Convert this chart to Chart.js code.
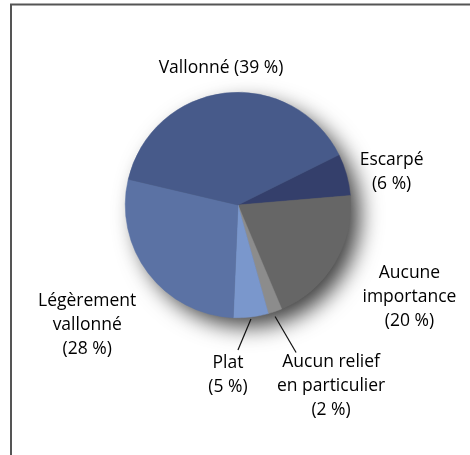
<!DOCTYPE html>
<html>
<head>
<meta charset="utf-8">
<script src="https://cdn.jsdelivr.net/npm/chart.js@4.4.0/dist/chart.umd.min.js"></script>
<style>
  html, body { margin: 0; padding: 0; background: #fff; }
  #wrap { width: 470px; height: 455px; position: relative; }
</style>
</head>
<body>
<div id="wrap"><canvas id="myChart" width="470" height="455"></canvas></div>
<script>
// data, clockwise from the top-right slice
const categories = ["Escarpé", "Aucune importance", "Aucun relief en particulier", "Plat", "Légèrement vallonné", "Vallonné"];
const shares = [6, 20, 2, 5, 28, 39];
const labelLines = [
  ["Escarpé", "(6 %)"],
  ["Aucune", "importance", "(20 %)"],
  ["Aucun relief", "en particulier", "(2 %)"],
  ["Plat", "(5 %)"],
  ["Légèrement", "vallonné", "(28 %)"],
  ["Vallonné (39 %)"],
];

const colors = ["#343f6b", "#666666", "#8c8c8c", "#7a97cc", "#5b72a4", "#475a8a"];

// label offsets from the slice's outer edge at its mid angle
const labelOffset = [[45, -3], [75, 34], [56, 75], [-23, 58], [-61, 52], [-4, -25]];
// leader lines (start / end offsets from the same edge point)
const leaders = [null, null, [0, 5, 21, 41], [0, 2, -13, 33], null, null];

const FONT = '17.5px "Open Sans", sans-serif';
const LINE_H = 24;

const framePlugin = {
  id: "frame",
  beforeDraw(chart) {
    const c = chart.ctx;
    c.save();
    c.strokeStyle = "#555";
    c.lineWidth = 2;
    c.beginPath();
    c.moveTo(11, 470);
    c.lineTo(11, 4.5);
    c.lineTo(480, 4.5);
    c.stroke();
    c.restore();
  },
};

const shadowPlugin = {
  id: "pieShadow",
  beforeDatasetsDraw(chart) {
    const arc = chart.getDatasetMeta(0).data[0];
    if (!arc) return;
    const c = chart.ctx;
    c.save();
    c.shadowColor = "rgba(0,0,0,0.75)";
    c.shadowBlur = 22;
    c.shadowOffsetX = 10;
    c.shadowOffsetY = 10;
    c.fillStyle = "#666";
    c.beginPath();
    c.arc(arc.x, arc.y, arc.outerRadius - 1, 0, Math.PI * 2);
    c.fill();
    c.restore();
  },
};

const labelPlugin = {
  id: "sliceLabels",
  afterDatasetsDraw(chart) {
    const c = chart.ctx;
    const arcs = chart.getDatasetMeta(0).data;
    c.save();
    c.font = FONT;
    c.fillStyle = "#000";
    c.textAlign = "center";
    c.textBaseline = "middle";
    arcs.forEach((arc, i) => {
      const mid = (arc.startAngle + arc.endAngle) / 2;
      const ex = arc.x + Math.cos(mid) * arc.outerRadius;
      const ey = arc.y + Math.sin(mid) * arc.outerRadius;
      const lines = labelLines[i];
      const cx = ex + labelOffset[i][0];
      const cy = ey + labelOffset[i][1];
      const top = cy - (lines.length - 1) * LINE_H / 2;
      lines.forEach((t, k) => c.fillText(t, cx, top + k * LINE_H));
      const l = leaders[i];
      if (l) {
        c.strokeStyle = "#111";
        c.lineWidth = 1.2;
        c.beginPath();
        c.moveTo(ex + l[0], ey + l[1]);
        c.lineTo(ex + l[2], ey + l[3]);
        c.stroke();
      }
    });
    c.restore();
  },
};

const ctx = document.getElementById("myChart");

const myChart = new Chart(ctx, {
  type: "pie",
  data: {
    labels: categories,
    datasets: [
      {
        data: shares,
        backgroundColor: colors,
        borderColor: colors,
        borderWidth: 0.5,
      },
    ],
  },
  options: {
    responsive: false,
    animation: false,
    rotation: 63.6,
    layout: {
      padding: { left: 125, right: 119, top: 92, bottom: 137 },
    },
    plugins: {
      legend: false,
      tooltip: { enabled: false },
    },
  },
  plugins: [framePlugin, shadowPlugin, labelPlugin],
});
</script>
</body>
</html>
